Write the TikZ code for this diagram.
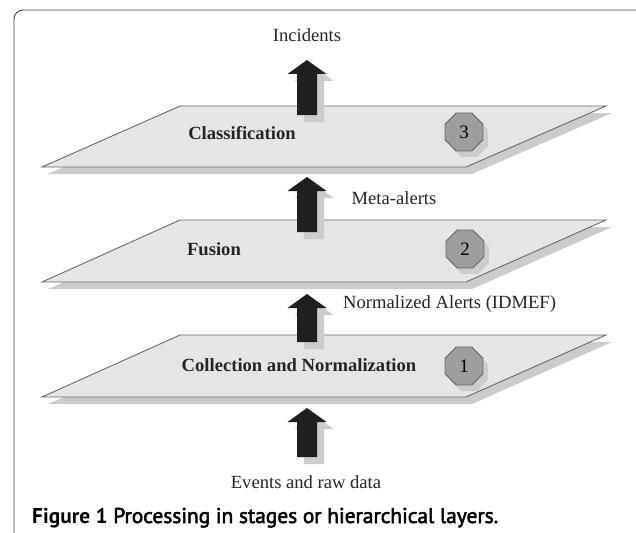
\documentclass[tikz,border=0pt]{standalone}
\usepackage{fontspec}
\setmainfont{Liberation Serif}
\newfontfamily\capfont{PT Sans}
\newfontfamily\capsemi[FakeBold=2.5]{PT Sans}
\usetikzlibrary{shapes.geometric}
\definecolor{planefill}{gray}{0.9}
\definecolor{planeline}{gray}{0.42}
\definecolor{shadowgray}{gray}{0.8}
\definecolor{arrowblack}{gray}{0.12}
\definecolor{octfill}{gray}{0.62}
\definecolor{octline}{gray}{0.4}
\definecolor{framegray}{gray}{0.25}
\definecolor{labelgray}{gray}{0.15}
\newcommand\layerplane[2]{%
  \fill[shadowgray] ({42+6},{#2+7}) -- ({180+6},{#1+7}) -- ({606+6},{#1+7}) -- ({466+6},{#2+7}) -- cycle;
  \filldraw[fill=planefill, draw=planeline, line width=0.9pt] (42,#2) -- (180,#1) -- (606,#1) -- (466,#2) -- cycle;
}
\newcommand\blockup[3]{%
  \begin{scope}[shift={(7,7)}]
    \fill[shadowgray] ({#1-10},#3) -- ({#1-10},{#2+14}) -- ({#1-19.5},{#2+14}) -- (#1,#2) -- ({#1+19.5},{#2+14}) -- ({#1+10},{#2+14}) -- ({#1+10},#3) -- cycle;
  \end{scope}
  \fill[arrowblack] ({#1-10},#3) -- ({#1-10},{#2+14}) -- ({#1-19.5},{#2+14}) -- (#1,#2) -- ({#1+19.5},{#2+14}) -- ({#1+10},{#2+14}) -- ({#1+10},#3) -- cycle;
}
\begin{document}
\begin{tikzpicture}[x=1pt,y=-1pt,
  planelabel/.style={font=\fontsize{18.6}{20}\selectfont\bfseries, text=labelgray, inner sep=0pt},
  txt/.style={font=\fontsize{18.6}{20}\selectfont, text=labelgray, inner sep=0pt},
  oct/.style={regular polygon, regular polygon sides=8, minimum size=41pt, inner sep=0pt,
              fill=octfill, draw=octline, line width=0.8pt, font=\fontsize{19}{20}\selectfont},
  octshadow/.style={regular polygon, regular polygon sides=8, minimum size=41pt, inner sep=0pt,
              fill=shadowgray},
]
\useasboundingbox (0,0) rectangle (636,532);
\fill[white] (0,0) rectangle (636,532);
\draw[framegray, line width=0.9pt, rounded corners=9pt] (14,560) -- (14,10) -- (660,10);

% Classification layer
\layerplane{106}{167}
\blockup{307}{60}{115}
\node[txt] (incidents) at (307,35) {Incidents};
\node[planelabel] (classification) at (242,133) {Classification};
\node[octshadow] (s3) at (469,138) {};
\node[oct] (n3) at (464,132) {3};

% Fusion layer
\node[txt] (meta) at (394,198) {Meta-alerts};
\layerplane{220}{282}
\blockup{307}{177}{232}
\node[planelabel] (fusion) at (214,249) {Fusion};
\node[octshadow] (s2) at (470,255) {};
\node[oct] (n2) at (465,249) {2};

% Collection layer
\node[txt, anchor=west] (norm) at (343,304) {Normalized Alerts (IDMEF)};
\layerplane{335}{397}
\blockup{307}{294}{342}
\node[planelabel] (collection) at (299,365) {Collection and Normalization};
\node[octshadow] (s1) at (469,372) {};
\node[oct] (n1) at (464,366) {1};

% input
\blockup{307}{408}{457}
\node[txt] (events) at (306,482) {Events and raw data};

% caption
\node[anchor=base west, inner sep=0pt] (caption) at (32,523)
  {\resizebox{466pt}{!}{\capfont\textbf{Figure 1} {\capsemi Processing in stages or hierarchical layers.}}};
\end{tikzpicture}
\end{document}
